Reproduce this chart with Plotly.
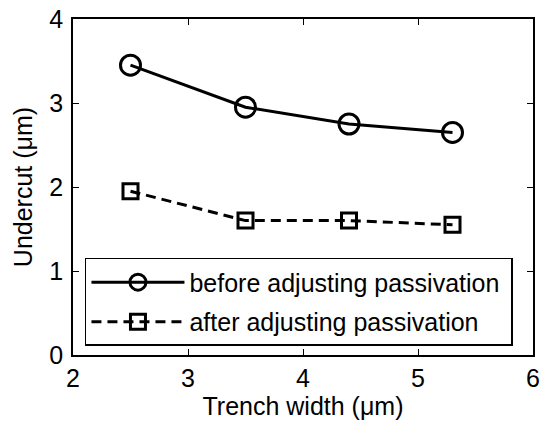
import plotly.graph_objects as go

trench_width = [2.5, 3.5, 4.4, 5.3]
before = [3.45, 2.95, 2.75, 2.65]
after = [1.95, 1.60, 1.60, 1.55]
x_ticks = [2, 3, 4, 5, 6]
y_ticks = [0, 1, 2, 3, 4]
series_names = ["before adjusting passivation\u00a0", "after adjusting passivation"]

FONT = "Liberation Sans, Arial, Helvetica, sans-serif"
FS = 25

fig = go.Figure()
fig.add_trace(go.Scatter(
    x=trench_width, y=before, mode="lines+markers",
    name=series_names[0], legendgroup="a",
    line=dict(color="black", width=3),
    marker=dict(symbol="circle-open", size=20, color="black", line=dict(width=3)),
))
fig.add_trace(go.Scatter(
    x=trench_width, y=after, mode="lines+markers",
    name=series_names[1], legendgroup="b",
    line=dict(color="black", width=3, dash="10px,6px"),
    marker=dict(symbol="square-open", size=15, color="black", line=dict(width=3)),
))

axis_common = dict(
    showline=True, linecolor="black", linewidth=1.5, mirror="allticks",
    ticks="inside", ticklen=6, tickwidth=1, tickcolor="black",
    showgrid=False, zeroline=False, automargin=False,
    ticklabeloverflow="allow",
    tickfont=dict(family=FONT, size=FS, color="black"),
    title_font=dict(family=FONT, size=FS, color="black"),
)

fig.update_xaxes(range=[2, 6], tickvals=x_ticks, title_text="Trench width (μm)",
                 title_standoff=4, ticklabelstandoff=0, **axis_common)
fig.update_yaxes(range=[0, 4], tickvals=y_ticks, title_text="Undercut (μm)",
                 title_standoff=10, ticklabelstandoff=3, **axis_common)

fig.update_layout(
    width=542, height=426,
    margin=dict(l=73, r=9, t=19, b=71),
    plot_bgcolor="white", paper_bgcolor="white",
    font=dict(family=FONT, size=FS, color="black"),
    legend=dict(
        x=0.026, y=0.289, xanchor="left", yanchor="top",
        bordercolor="black", borderwidth=1.5, bgcolor="white",
        font=dict(family=FONT, size=FS, color="black"),
        itemwidth=93, tracegroupgap=4,
    ),
    showlegend=True,
)

fig.write_html(
    "out.html",
    config={"displayModeBar": False},
    post_script="document.body.style.margin='0';document.body.style.overflow='hidden';",
)
